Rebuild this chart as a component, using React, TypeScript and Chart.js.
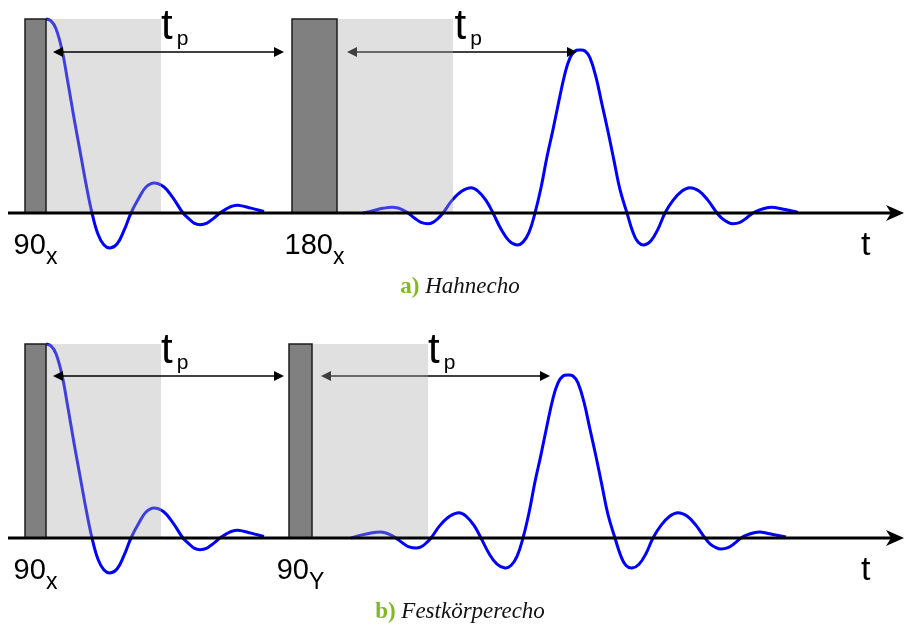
import React, { useEffect, useRef } from "react";
import { Chart, registerables } from "chart.js";

Chart.register(...registerables);

// Free induction decay after the first 90° pulse (time in a.u., signal relative to pulse height)
const fidTime = [2.1, 2.6, 3.1, 3.7, 4.3, 4.9, 5.5, 6.1, 6.7, 7.3, 7.9, 8.5, 9.2, 9.9, 10.6, 11.4, 12.1, 12.9, 13.9, 14.8, 15.8, 16.4, 16.9, 17.5, 18.2, 18.8, 19.5, 20.1, 20.7, 21.3, 22.6, 23.9];
const fidSignal = [1.0, 0.99, 0.95, 0.84, 0.67, 0.49, 0.32, 0.15, 0, -0.11, -0.165, -0.18, -0.16, -0.09, 0, 0.078, 0.134, 0.155, 0.134, 0.078, 0, -0.03, -0.052, -0.06, -0.052, -0.03, 0, 0.02, 0.035, 0.04, 0.025, 0.008];

// Hahn echo (a)
const echoATime = [33.8, 34.8, 35.8, 36.7, 37.3, 37.8, 38.3, 39.0, 39.6, 40.3, 40.8, 41.3, 41.8, 42.7, 43.7, 44.6, 45.3, 46.1, 46.8, 47.6, 48.4, 49.2, 49.8, 50.4, 51.0, 51.6, 52.2, 52.8, 53.4, 54.0, 54.5, 55.0, 55.5, 56.0, 56.5, 57.1, 57.7, 58.3, 58.9, 59.5, 60.2, 60.8, 61.3, 61.9, 62.6, 63.3, 64.0, 64.8, 65.7, 66.5, 67.4, 68.3, 69.2, 69.7, 70.3, 70.8, 71.5, 72.1, 72.8, 73.4, 74.1, 74.7, 76.0, 77.3];
const echoASignal = [0, 0.012, 0.024, 0.03, 0.026, 0.015, 0, -0.028, -0.048, -0.055, -0.048, -0.028, 0, 0.065, 0.113, 0.13, 0.113, 0.065, 0, -0.083, -0.143, -0.165, -0.15, -0.1, 0, 0.13, 0.29, 0.43, 0.58, 0.72, 0.8, 0.835, 0.84, 0.835, 0.8, 0.7, 0.56, 0.42, 0.27, 0.12, 0, -0.1, -0.15, -0.165, -0.143, -0.083, 0, 0.065, 0.113, 0.13, 0.113, 0.065, 0, -0.028, -0.048, -0.055, -0.048, -0.028, 0, 0.015, 0.026, 0.03, 0.018, 0.003];

// Solid echo (b)
const echoBTime = [32.6, 33.6, 34.6, 35.5, 36.1, 36.6, 37.1, 37.8, 38.4, 39.1, 39.6, 40.1, 40.6, 41.5, 42.5, 43.4, 44.1, 44.9, 45.6, 46.4, 47.2, 48.0, 48.6, 49.2, 49.8, 50.4, 51.0, 51.6, 52.2, 52.8, 53.3, 53.8, 54.3, 54.8, 55.3, 55.9, 56.5, 57.1, 57.7, 58.3, 59.0, 59.6, 60.1, 60.7, 61.4, 62.1, 62.8, 63.6, 64.5, 65.3, 66.2, 67.1, 68.0, 68.5, 69.1, 69.6, 70.3, 70.9, 71.6, 72.2, 72.9, 73.5, 74.8, 76.1];
const echoBSignal = [0, 0.015, 0.026, 0.031, 0.026, 0.015, 0, -0.027, -0.046, -0.052, -0.046, -0.027, 0, 0.065, 0.113, 0.13, 0.113, 0.065, 0, -0.08, -0.135, -0.155, -0.142, -0.095, 0, 0.13, 0.29, 0.43, 0.58, 0.72, 0.8, 0.835, 0.84, 0.835, 0.8, 0.7, 0.56, 0.42, 0.27, 0.12, 0, -0.095, -0.142, -0.155, -0.135, -0.08, 0, 0.065, 0.113, 0.13, 0.113, 0.065, 0, -0.03, -0.05, -0.057, -0.05, -0.03, 0, 0.016, 0.027, 0.031, 0.018, 0.005];

// Pulse timing [start, end]
const pulsesA: [number, number][] = [[0, 2.1], [26.7, 31.2]];
const pulsesB: [number, number][] = [[0, 2.1], [26.4, 28.7]];
const pulseLabelsA = [["90", "x"], ["180", "x"]];
const pulseLabelsB = [["90", "x"], ["90", "Y"]];

// Receiver dead time windows [start, end]
const deadA: [number, number][] = [[2.1, 13.6], [31.2, 42.8]];
const deadB: [number, number][] = [[2.1, 13.6], [28.7, 40.3]];

// Delay t_p markers [start, end] and their level
const delaysA: [number, number][] = [[2.8, 25.9], [32.2, 55.2]];
const delaysB: [number, number][] = [[2.8, 25.9], [29.6, 52.5]];
const delayLevelA = 0.83;
const delayLevelB = 0.835;

const captionA = ["a)", "Hahnecho"];
const captionB = ["b)", "Festkörperecho"];

const SANS = '"Liberation Sans", Arial, sans-serif';
const SERIF = '"Liberation Serif", "Times New Roman", serif';

type Panel = {
  echoTime: number[];
  echoSignal: number[];
  pulses: [number, number][];
  labels: string[][];
  dead: [number, number][];
  delays: [number, number][];
  level: number;
  caption: string[];
  padTop: number;
  padBottom: number;
};

function head(ctx: CanvasRenderingContext2D, x: number, y: number, dir: number) {
  ctx.beginPath();
  ctx.moveTo(x, y);
  ctx.lineTo(x - dir * 10, y - 5);
  ctx.lineTo(x - dir * 10, y + 5);
  ctx.closePath();
  ctx.fill();
}

function delayArrow(ctx: CanvasRenderingContext2D, x1: number, x2: number, y: number) {
  ctx.save();
  ctx.strokeStyle = "#000";
  ctx.fillStyle = "#000";
  ctx.lineWidth = 1.3;
  ctx.beginPath();
  ctx.moveTo(x1 + 8, y);
  ctx.lineTo(x2 - 8, y);
  ctx.stroke();
  head(ctx, x1, y, -1);
  head(ctx, x2, y, 1);
  // t_p
  const cx = (x1 + x2) / 2 - 7.5;
  ctx.font = `42px ${SANS}`;
  ctx.textAlign = "left";
  ctx.textBaseline = "alphabetic";
  ctx.fillText("t", cx, y - 13);
  const w = ctx.measureText("t").width;
  ctx.font = `21px ${SANS}`;
  ctx.fillText("p", cx + w + 4, y - 7);
  ctx.restore();
}

function diagramPlugin(p: Panel) {
  return {
    id: "pulseDiagram",
    afterDatasetsDraw(chart: any) {
      const ctx: CanvasRenderingContext2D = chart.ctx;
      const xs = chart.scales.x;
      const ys = chart.scales.y;
      const base = ys.getPixelForValue(0);
      const top = ys.getPixelForValue(1);
      const ay = ys.getPixelForValue(p.level);
      const area = chart.chartArea;

      // second delay marker sits below the shaded window
      delayArrow(ctx, xs.getPixelForValue(p.delays[1][0]), xs.getPixelForValue(p.delays[1][1]), ay);

      // dead time windows
      ctx.save();
      ctx.fillStyle = "rgba(171,171,171,0.37)";
      p.dead.forEach(([a, b]) => {
        const x1 = xs.getPixelForValue(a);
        const x2 = xs.getPixelForValue(b);
        ctx.fillRect(x1, top, x2 - x1, base - top);
      });
      ctx.restore();

      // RF pulses
      ctx.save();
      p.pulses.forEach(([a, b]) => {
        const x1 = xs.getPixelForValue(a);
        const x2 = xs.getPixelForValue(b);
        ctx.fillStyle = "#808080";
        ctx.fillRect(x1, top, x2 - x1, base - top);
        ctx.strokeStyle = "#1c1c1c";
        ctx.lineWidth = 1.5;
        ctx.strokeRect(x1, top, x2 - x1, base - top);
      });
      ctx.restore();

      // time axis with arrow
      ctx.save();
      ctx.strokeStyle = "#000";
      ctx.fillStyle = "#000";
      ctx.lineWidth = 3;
      ctx.beginPath();
      ctx.moveTo(area.left, base);
      ctx.lineTo(area.right - 12, base);
      ctx.stroke();
      ctx.beginPath();
      ctx.moveTo(area.right, base);
      ctx.lineTo(area.right - 18, base - 8);
      ctx.lineTo(area.right - 13, base);
      ctx.lineTo(area.right - 18, base + 8);
      ctx.closePath();
      ctx.fill();
      ctx.restore();

      delayArrow(ctx, xs.getPixelForValue(p.delays[0][0]), xs.getPixelForValue(p.delays[0][1]), ay);

      // pulse labels
      ctx.save();
      ctx.fillStyle = "#000";
      ctx.textAlign = "left";
      ctx.textBaseline = "alphabetic";
      p.pulses.forEach(([a, b], i) => {
        const [main, sub] = p.labels[i];
        ctx.font = `29px ${SANS}`;
        const wm = ctx.measureText(main).width;
        ctx.font = `23px ${SANS}`;
        const ws = ctx.measureText(sub).width;
        const c = (xs.getPixelForValue(a) + xs.getPixelForValue(b)) / 2;
        const x0 = c - (wm + ws) / 2;
        ctx.font = `29px ${SANS}`;
        ctx.fillText(main, x0, base + 41);
        ctx.font = `23px ${SANS}`;
        ctx.fillText(sub, x0 + wm, base + 51);
      });
      // axis label
      ctx.font = `34px ${SANS}`;
      ctx.fillText("t", area.right - 43, base + 42);

      // caption
      const [tag, name] = p.caption;
      ctx.font = `bold 23px ${SERIF}`;
      const wt = ctx.measureText(tag + " ").width;
      ctx.font = `italic 23px ${SERIF}`;
      const wn = ctx.measureText(name).width;
      const cx = (area.left + area.right) / 2 + 4;
      const x0 = cx - (wt + wn) / 2;
      const cy = base + 80;
      ctx.font = `bold 23px ${SERIF}`;
      ctx.fillStyle = "#80b826";
      ctx.fillText(tag, x0, cy);
      ctx.font = `italic 23px ${SERIF}`;
      ctx.fillStyle = "#111";
      ctx.fillText(name, x0 + wt, cy);
      ctx.restore();
    },
  };
}

const panelA: Panel = {
  echoTime: echoATime,
  echoSignal: echoASignal,
  pulses: pulsesA,
  labels: pulseLabelsA,
  dead: deadA,
  delays: delaysA,
  level: delayLevelA,
  caption: captionA,
  padTop: 19,
  padBottom: 42.8,
};

const panelB: Panel = {
  echoTime: echoBTime,
  echoSignal: echoBSignal,
  pulses: pulsesB,
  labels: pulseLabelsB,
  dead: deadB,
  delays: delaysB,
  level: delayLevelB,
  caption: captionB,
  padTop: 30,
  padBottom: 31.8,
};

function EchoPanel({ panel }: { panel: Panel }) {
  const ref = useRef<HTMLCanvasElement>(null);
  useEffect(() => {
    if (!ref.current) return;
    const line = {
      borderColor: "#0000ff",
      borderWidth: 3,
      pointRadius: 0,
      tension: 0.4,
      clip: false as any,
      fill: false,
    };
    const chart = new Chart(ref.current, {
      type: "line",
      data: {
        datasets: [
          { ...line, data: fidTime.map((t, i) => ({ x: t, y: fidSignal[i] })) },
          { ...line, data: panel.echoTime.map((t, i) => ({ x: t, y: panel.echoSignal[i] })) },
        ],
      },
      options: {
        animation: false,
        responsive: false,
        layout: { padding: { left: 8, right: 0, top: panel.padTop, bottom: panel.padBottom } },
        scales: {
          x: { type: "linear", min: -1.7, max: 87.9, display: false },
          y: { type: "linear", min: -0.3, max: 1, display: false },
        },
        plugins: { legend: { display: false }, tooltip: { enabled: false } },
      },
      plugins: [diagramPlugin(panel)],
    });
    return () => chart.destroy();
  }, [panel]);
  return <canvas ref={ref} width={904} height={314} style={{ display: "block" }} />;
}

export default function App() {
  useEffect(() => {
    document.body.style.margin = "0";
    document.body.style.background = "#fff";
  }, []);
  return (
    <div style={{ width: 904, height: 628, background: "#fff" }}>
      <EchoPanel panel={panelA} />
      <EchoPanel panel={panelB} />
    </div>
  );
}
